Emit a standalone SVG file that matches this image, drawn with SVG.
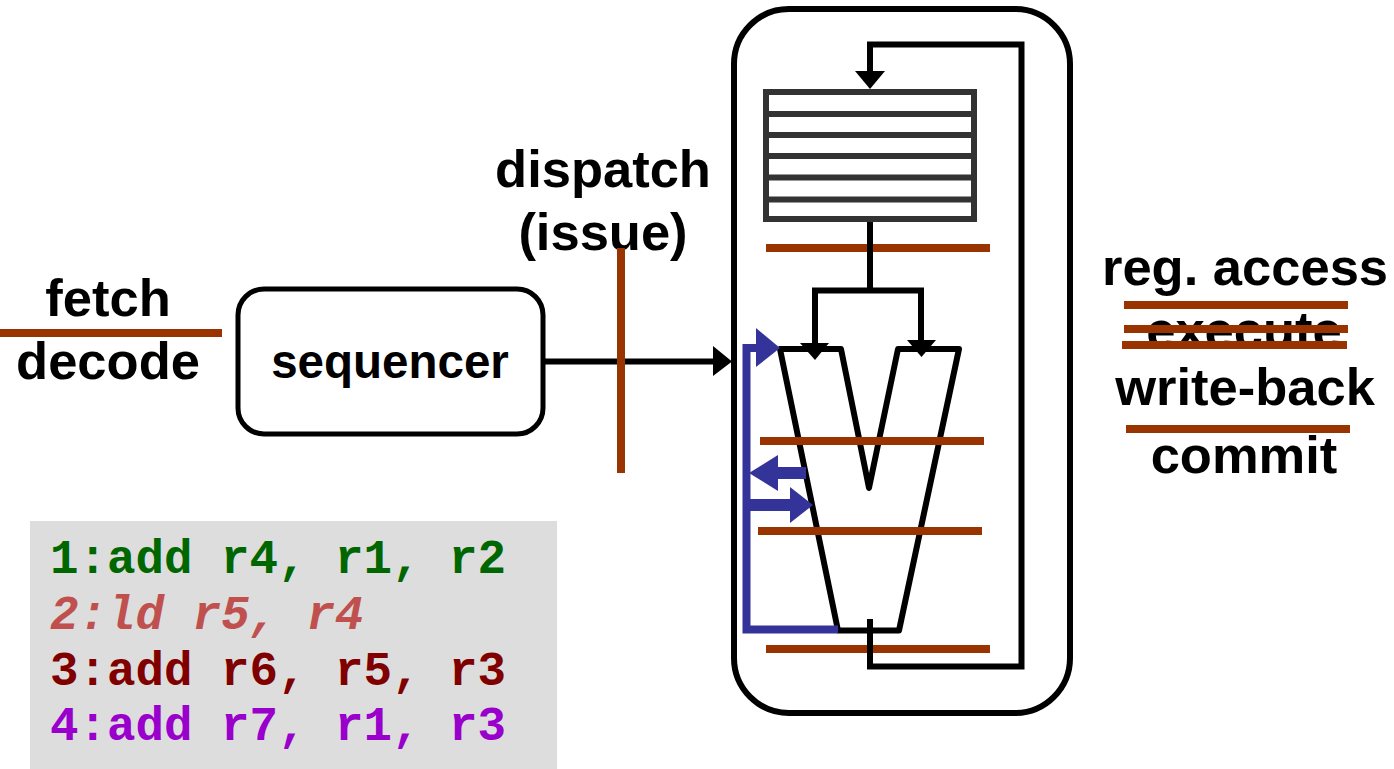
<svg xmlns="http://www.w3.org/2000/svg" width="1394" height="769" viewBox="0 0 1394 769">
  <defs>
    <style>
      .lbl { font-family: "Liberation Sans", Arial, sans-serif; font-weight: bold; font-size: 52.5px; fill: #000; text-anchor: middle; }
      .code { font-family: "Liberation Mono", "Courier New", monospace; font-weight: bold; font-size: 47.5px; }
      .latch { stroke: #993300; stroke-width: 8; fill: none; }
      .wire { stroke: #000; stroke-width: 6; fill: none; stroke-linejoin: miter; }
      .head { fill: #000; }
      .bypass { fill: #333399; }
    </style>
  </defs>

  <rect width="1394" height="769" fill="#fff"/>

  <!-- stage labels -->
  <g id="labels">
    <text class="lbl" x="108" y="316">fetch</text>
    <text class="lbl" x="108" y="379">decode</text>
    <text class="lbl" x="603" y="187">dispatch</text>
    <text class="lbl" x="603" y="250">(issue)</text>
    <text class="lbl" x="1245" y="285">reg. access</text>
    <text class="lbl" x="1244" y="348">execute</text>
    <text class="lbl" x="1245" y="405">write-back</text>
    <text class="lbl" x="1244" y="473">commit</text>
  </g>

  <!-- sequencer -->
  <g id="sequencer">
    <rect x="238" y="289" width="305" height="145" rx="26" fill="#fff" stroke="#000" stroke-width="5"/>
    <text class="lbl" x="390" y="378" style="font-size:47.5px">sequencer</text>
  </g>

  <!-- execution block outline -->
  <g id="exec-block">
    <rect x="734" y="9" width="336" height="704" rx="55" fill="none" stroke="#000" stroke-width="6"/>
  </g>

  <!-- register file -->
  <g id="regfile" stroke="#333" stroke-width="6" fill="#fff">
    <rect x="766" y="92" width="208" height="127"/>
    <line x1="766" y1="114" x2="974" y2="114"/>
    <line x1="766" y1="135" x2="974" y2="135"/>
    <line x1="766" y1="156" x2="974" y2="156"/>
    <line x1="766" y1="177.5" x2="974" y2="177.5"/>
    <line x1="766" y1="199.5" x2="974" y2="199.5"/>
  </g>

  <!-- ALU -->
  <g id="alu">
    <polygon points="780,349 841,349 869,488 898,349 959,349 899,630.5 838,630.5" fill="none" stroke="#000" stroke-width="6" stroke-linejoin="round"/>
  </g>

  <!-- pipeline latches -->
  <g id="latches" class="latch">
    <line x1="0" y1="333" x2="222" y2="333"/>
    <line x1="766" y1="248" x2="990" y2="248"/>
    <line x1="760" y1="441" x2="984" y2="441"/>
    <line x1="758" y1="531" x2="982" y2="531"/>
    <line x1="766" y1="649" x2="990" y2="649"/>
    <line x1="1124" y1="305" x2="1348" y2="305"/>
    <line x1="1124" y1="329" x2="1348" y2="329"/>
    <line x1="1122" y1="345" x2="1347" y2="345"/>
    <line x1="1126" y1="429" x2="1350" y2="429"/>
  </g>

  <!-- connectors -->
  <g id="connectors">
    <line class="wire" x1="543" y1="361.5" x2="715" y2="361.5" stroke-width="5"/>
    <polygon class="head" points="713,346 732,361.5 713,376"/>

    <path class="wire" d="M870 619 V666.5 H1021.5 V44.5 H870 V73"/>
    <polygon class="head" points="855,71 870,89 885,71"/>

    <path class="wire" d="M870 222 V290.5"/>
    <path class="wire" d="M815 345 V290.5 H921 V342"/>
    <polygon class="head" points="800,343 815,360 829,343"/>
    <polygon class="head" points="907,340 921.5,357 936,340"/>

    <!-- bypass network -->
    <path d="M758 348 H746.5 V629.5 H838" fill="none" stroke="#333399" stroke-width="8"/>
    <polygon class="bypass" points="756,328 780,348 756,367"/>
    <rect class="bypass" x="770" y="467" width="36" height="12"/>
    <polygon class="bypass" points="749,473 778,455 778,491"/>
    <rect class="bypass" x="746" y="499" width="46" height="12"/>
    <polygon class="bypass" points="790,487 813,505 790,523"/>
  </g>

  <!-- dispatch latch -->
  <g id="dispatch-latch" class="latch">
    <line x1="621" y1="248" x2="621" y2="473"/>
  </g>

  <!-- instruction listing -->
  <g id="program">
    <rect x="30" y="521" width="527" height="248" fill="#dddddd"/>
    <text class="code" x="50" y="573" fill="#006600">1:add r4, r1, r2</text>
    <text class="code" x="50" y="629" fill="#c0504d" font-style="italic">2:ld r5, r4</text>
    <text class="code" x="50" y="685" fill="#800000">3:add r6, r5, r3</text>
    <text class="code" x="50" y="740" fill="#9900cc">4:add r7, r1, r3</text>
  </g>
</svg>
